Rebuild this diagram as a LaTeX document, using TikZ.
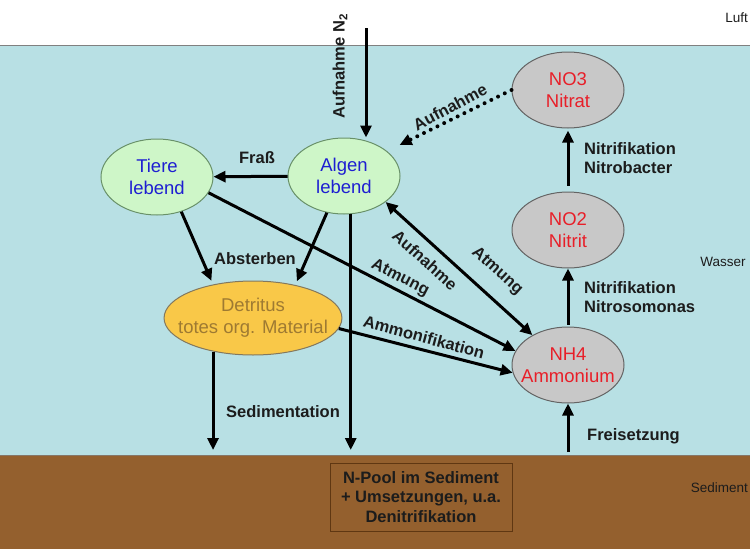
\documentclass[tikz,border=0pt]{standalone}
\usepackage{fontspec}
\setmainfont{Liberation Sans}
\usetikzlibrary{shapes.geometric,arrows.meta}
\definecolor{wasser}{RGB}{184,224,228}
\definecolor{boden}{RGB}{148,96,46}
\definecolor{bodenrand}{RGB}{95,55,18}
\definecolor{gruen}{RGB}{206,246,200}
\definecolor{gruenrand}{RGB}{105,145,105}
\definecolor{blautext}{RGB}{30,30,210}
\definecolor{gelb}{RGB}{249,200,72}
\definecolor{gelbtext}{RGB}{158,122,50}
\definecolor{grauoval}{RGB}{200,200,200}
\definecolor{graurand}{RGB}{100,100,100}
\definecolor{rottext}{RGB}{232,30,40}
\definecolor{schrift}{RGB}{28,28,28}

\begin{document}
\begin{tikzpicture}[x=1pt,y=-1pt,
  lbl/.style={font=\fontsize{16.5}{19.5}\selectfont\bfseries, text=schrift, inner sep=0pt},
  zone/.style={font=\fontsize{13.5}{16}\selectfont, text=schrift, inner sep=0pt},
  oval/.style={ellipse, line width=1pt, minimum width=112pt, minimum height=76pt,
    inner xsep=-12pt, inner ysep=0pt, align=center, font=\fontsize{18.5}{22}\selectfont},
  lebend/.style={oval, draw=gruenrand, fill=gruen, text=blautext},
  stoff/.style={oval, draw=graurand, fill=grauoval, text=rottext},
  pfeil/.style={line width=3pt, -{Triangle[length=12pt,width=11pt]}},
  punkte/.style={pfeil, line width=4pt, line cap=round, dash pattern=on 0pt off 7.5pt}]
  \useasboundingbox (0,0) rectangle (750,549);
  \fill[wasser] (0,45) rectangle (750,455);
  \draw[gray, line width=1pt] (0,45) -- (750,45);
  \fill[boden] (0,455) rectangle (750,549);
  \draw[gray!70!boden, line width=1pt] (0,455) -- (750,455);

  \node[zone, anchor=east] (luft) at (748,18) {Luft};
  \node[zone] (wasserzone) at (723,262) {Wasser};
  \node[zone, anchor=east] (sedzone) at (748,488) {Sediment};

  \node[lebend] (tiere) at (157,177) {Tiere\\lebend};
  \node[lebend] (algen) at (344,176) {Algen\\lebend};
  \node[oval, draw=graurand!80!gelb, fill=gelb, text=gelbtext, minimum width=176pt, minimum height=74pt] (detritus) at (253,318) {Detritus\\totes org. Material};
  \node[stoff] (no3) at (568,90) {NO3\\Nitrat};
  \node[stoff] (no2) at (568,230) {NO2\\Nitrit};
  \node[stoff] (nh4) at (568,365) {NH4\\Ammonium};
  \node[lbl, draw=bodenrand, line width=1pt, fill=boden, align=center,
    minimum width=182pt, minimum height=68pt] (pool) at (421,497)
    {N-Pool im Sediment\\+ Umsetzungen, u.a.\\Denitrifikation};

  \coordinate (luftn) at (366,28);
  \coordinate (grund) at (0,450);
  \coordinate (quelle) at (568,452);

  \draw[pfeil] (luftn) -- (luftn |- algen.north);
  \draw[pfeil] (algen) -- (tiere);
  \draw[punkte, shorten >=14pt] (no3.west) -- (algen.30);
  \draw[pfeil, shorten >=4pt] (tiere.-55) -- (detritus.140);
  \draw[pfeil, shorten >=4pt] (algen.-115) -- (detritus.38);
  \draw[pfeil] (tiere.-17) -- (nh4.165);
  \draw[line width=3pt, {Triangle[length=12pt,width=11pt]}-{Triangle[length=12pt,width=11pt]}] (algen.-32) -- (nh4.140);
  \draw[pfeil] (detritus.-7) -- (nh4.188);
  \draw[pfeil] (detritus.-140) -- (detritus.-140 |- grund);
  \draw[pfeil] (algen.-80) -- (algen.-80 |- grund);
  \draw[pfeil] (quelle) -- (nh4.south);
  \draw[pfeil, shorten <=2pt] (nh4.north) -- (no2.south);
  \draw[pfeil, shorten <=6pt, shorten >=2pt] (no2.north) -- (no3.south);

  \node[lbl, rotate=90] (ln2) at (340,66) {Aufnahme N\textsubscript{2}};
  \node[lbl] (lfrass) at (257,158) {Fraß};
  \node[lbl, rotate=28] (lauf1) at (450,107) {Aufnahme};
  \node[lbl] (labst) at (255,259) {Absterben};
  \node[lbl, rotate=-27] (latm1) at (400,278) {Atmung};
  \node[lbl, rotate=-42] (lauf2) at (425,260) {Aufnahme};
  \node[lbl, rotate=-42] (latm2) at (497,271) {Atmung};
  \node[lbl, rotate=-15] (lammon) at (424,337) {Ammonifikation};
  \node[lbl] (lsed) at (283,412) {Sedimentation};
  \node[lbl, anchor=west] (lfrei) at (587,436) {Freisetzung};
  \node[lbl, anchor=west, align=left] (lnit1) at (584,158) {Nitrifikation\\Nitrobacter};
  \node[lbl, anchor=west, align=left] (lnit2) at (584,297) {Nitrifikation\\Nitrosomonas};
\end{tikzpicture}
\end{document}
